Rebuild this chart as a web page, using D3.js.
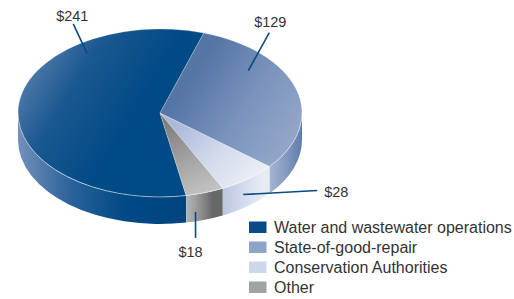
<!DOCTYPE html>
<html>
<head>
<meta charset="utf-8">
<script src="https://cdn.jsdelivr.net/npm/d3@7"></script>
<style>
  html, body { margin: 0; padding: 0; background: #fff; }
  svg { display: block; }
  .label { font-family: "Liberation Sans", Arial, sans-serif; font-size: 14.5px; fill: #333; }
  .legend text { font-family: "Liberation Sans", Arial, sans-serif; font-size: 16px; fill: #333; }
</style>
</head>
<body>
<svg width="514" height="299"></svg>
<script>
// data
const categories = ["Water and wastewater operations", "State-of-good-repair", "Conservation Authorities", "Other"];
const values = [241, 129, 28, 18];
const valueLabels = ["$241", "$129", "$28", "$18"];

const svg = d3.select("svg"),
    cx = 160, cy = 113,   // centre of the top face
    rx = 142, ry = 84,    // ellipse radii
    depth = 27;

const legendColor = ["#0a4a86", "#8fa3c7", "#cdd7ea", "#a1a2a5"];

// gradients: [id, x1, y1, x2, y2, stops]
const gradients = [
    ["top0", 20, 45, 135, 115, ["#6687b4", "#1a5890", "#004a86"]],
    ["top1", 195, 70, 300, 140, ["#5575a5", "#7b93bd", "#95a8c9"]],
    ["top2", 175, 125, 250, 195, ["#aab9da", "#d3dbec", "#eef1f7"]],
    ["top3", 165, 125, 200, 195, ["#7f7f80", "#a2a2a3", "#c2c2c3"]],
    ["side0", 18, 0, 177, 0, ["#7390bb", "#2a6299", "#004a86", "#00457f"]],
    ["side1", 263, 0, 302, 0, ["#b0bfdb", "#8ba0c6", "#5f7cab"]],
    ["side2", 213, 0, 263, 0, ["#aebbd9", "#cdd6ea", "#e6ebf4"]],
    ["side3", 177, 0, 213, 0, ["#c9c9ca", "#a0a0a1", "#68686a"]]
];

const defs = svg.append("defs");
gradients.forEach(function(g) {
    const lg = defs.append("linearGradient")
        .attr("id", g[0])
        .attr("gradientUnits", "userSpaceOnUse")
        .attr("x1", g[1]).attr("y1", g[2])
        .attr("x2", g[3]).attr("y2", g[4]);
    g[5].forEach(function(c, i) {
        lg.append("stop")
            .attr("offset", i / (g[5].length - 1))
            .attr("stop-color", c);
    });
});

const pie = d3.pie()
    .sort(null)
    .startAngle((18 - 208.6) * Math.PI / 180)
    .endAngle((18 - 208.6 + 360) * Math.PI / 180);

const arcs = pie(values);

// point on the ellipse, angle clockwise from 12 o'clock
function pt(a, r, dy) {
    r = r == null ? 1 : r;
    return [cx + rx * r * Math.sin(a), cy - ry * r * Math.cos(a) + (dy || 0)];
}

function topPath(d) {
    const p0 = pt(d.startAngle), p1 = pt(d.endAngle);
    const large = d.endAngle - d.startAngle > Math.PI ? 1 : 0;
    return "M" + cx + "," + cy + "L" + p0 + "A" + rx + "," + ry + " 0 " + large + " 1 " + p1 + "Z";
}

// the part of a slice that lies in the front half shows its side wall
function sidePath(d) {
    let out = "";
    [-2, 0, 2].forEach(function(k) {
        const lo = Math.max(d.startAngle, Math.PI / 2 + k * Math.PI),
            hi = Math.min(d.endAngle, 1.5 * Math.PI + k * Math.PI);
        if (k % 2 !== 0 || hi <= lo) return;
        const a = pt(lo), b = pt(hi), c = pt(hi, 1, depth), e = pt(lo, 1, depth);
        out += "M" + a + "A" + rx + "," + ry + " 0 0 1 " + b +
            "L" + c + "A" + rx + "," + ry + " 0 0 0 " + e + "Z";
    });
    return out;
}

svg.append("g")
    .selectAll("path")
    .data(arcs)
    .enter().append("path")
    .attr("d", sidePath)
    .attr("fill", function(d, i) { return "url(#side" + i + ")"; });

svg.append("g")
    .selectAll("path")
    .data(arcs)
    .enter().append("path")
    .attr("d", topPath)
    .attr("fill", function(d, i) { return "url(#top" + i + ")"; })
    .attr("stroke", "rgba(255,255,255,0.35)")
    .attr("stroke-width", 0.6);

// light rim along the front edge of the top face
svg.append("path")
    .attr("d", "M" + pt(Math.PI / 2) + "A" + rx + "," + ry + " 0 0 1 " + pt(1.5 * Math.PI))
    .attr("fill", "none")
    .attr("stroke", "rgba(255,255,255,0.45)")
    .attr("stroke-width", 0.8);

// leader lines: where on the slice they start, and how far they run
const leaders = [
    { t: 0.741, r: 0.87, dy: 0, lx: -14, ly: -30, tx: -1, ty: -3, anchor: "middle" },
    { t: 0.296, r: 0.80, dy: 0, lx: 21, ly: -38, tx: 1, ty: -6, anchor: "middle" },
    { t: 0.60, r: 1, dy: 0.5, lx: 74, ly: -4, tx: 7, ty: 6, anchor: "start" },
    { t: 0.75, r: 1, dy: 0.65, lx: 0, ly: 26, tx: -5, ty: 19, anchor: "middle" }
];

const lab = svg.append("g");
arcs.forEach(function(d, i) {
    const L = leaders[i];
    const a = d.startAngle + L.t * (d.endAngle - d.startAngle);
    const p = pt(a, L.r, L.dy * depth);
    lab.append("line")
        .attr("x1", p[0]).attr("y1", p[1])
        .attr("x2", p[0] + L.lx).attr("y2", p[1] + L.ly)
        .attr("stroke", "#0b4a82")
        .attr("stroke-width", 1.6);
    lab.append("text")
        .attr("class", "label")
        .attr("x", p[0] + L.lx + L.tx)
        .attr("y", p[1] + L.ly + L.ty)
        .attr("text-anchor", L.anchor)
        .text(valueLabels[i]);
});

// legend
const y = d3.scaleBand()
    .domain(categories)
    .range([221, 301])
    .paddingInner(0);

const legend = svg.append("g").attr("class", "legend");
legend.selectAll("rect")
    .data(categories)
    .enter().append("rect")
    .attr("x", 249)
    .attr("y", function(d) { return y(d) + 0.5; })
    .attr("width", 17.5)
    .attr("height", 11.5)
    .attr("fill", function(d, i) { return legendColor[i]; });

legend.selectAll("text")
    .data(categories)
    .enter().append("text")
    .attr("x", 274)
    .attr("y", function(d) { return y(d) + 12; })
    .text(function(d) { return d; });
</script>
</body>
</html>
